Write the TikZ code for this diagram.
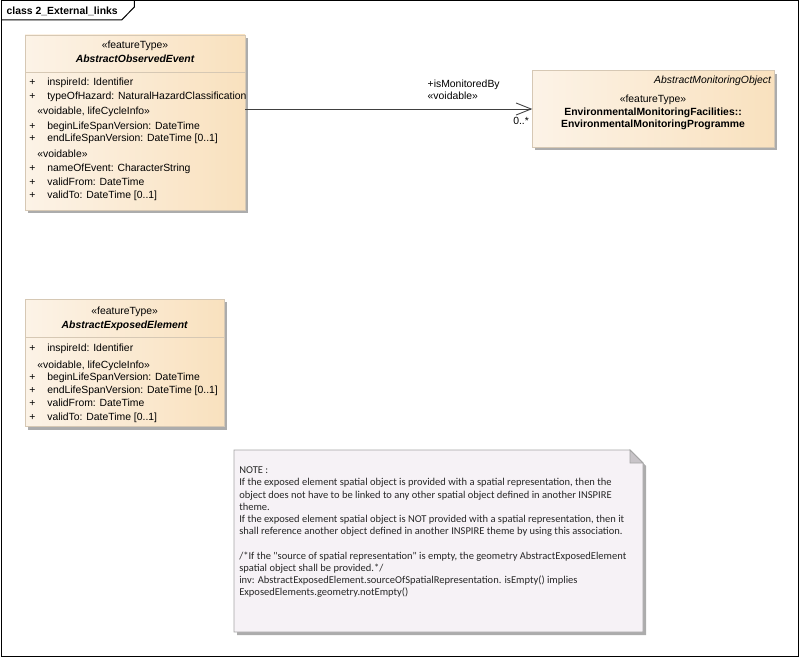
\documentclass[tikz,border=0pt]{standalone}
\usepackage{fontspec}
\setmainfont{Liberation Sans}
\newfontfamily\notefamily{Carlito}
\usetikzlibrary{arrows.meta,shadows}
\definecolor{clsL}{RGB}{252,243,231}
\definecolor{clsR}{RGB}{249,225,190}
\definecolor{clsBorder}{RGB}{214,200,180}
\definecolor{shadowc}{RGB}{172,172,172}
\definecolor{noteFill}{RGB}{246,242,246}
\definecolor{noteBorder}{RGB}{165,165,165}
\definecolor{foldc}{RGB}{200,196,200}
\definecolor{lineC}{RGB}{64,64,64}
\newcommand\umlfont{\fontsize{10.4}{12}\selectfont}
\tikzset{
  classbox/.style={draw=clsBorder, line width=0.8pt, left color=clsL, right color=clsR,
    inner sep=0pt, outer sep=0pt, anchor=north west,
    general shadow={fill=shadowc, shadow xshift=3pt, shadow yshift=-3pt}},
  sepline/.style={draw=clsBorder, line width=0.8pt},
  txt/.style={inner sep=0pt, outer sep=0pt, font=\umlfont, anchor=base west},
  ctxt/.style={txt, anchor=base},
  assoc/.style={draw=lineC, line width=0.9pt, -{Straight Barb[length=15pt, width=12pt, line width=0.9pt]}},
  notetext/.style={inner sep=0pt, outer sep=0pt, anchor=north west, align=left,
    text=black!85, font=\notefamily\fontsize{10.5}{12.2}\selectfont},
}
\begin{document}
\begin{tikzpicture}[x=1pt, y=-1pt]
\useasboundingbox (0,0) rectangle (800,658);
% frame
\draw[line width=1pt] (1,1) rectangle (798.5,656);
\draw[line width=1pt] (1,20) -- (121.7,20) -- (134.3,7) -- (134.3,1);
\node[txt, font=\umlfont\bfseries] (title) at (6.7,14.5) {class 2\_External\_links};

% AbstractObservedEvent
\node[classbox, minimum width=220pt, minimum height=175pt] (obs) at (25,35) {};
\draw[sepline] ([yshift=-37.3pt]obs.north west) -- ([yshift=-37.3pt]obs.north east);
\node[ctxt] (obsst) at (135,49) {«featureType»};
\node[ctxt, font=\umlfont\bfseries\itshape] (obsname) at (135,62.5) {AbstractObservedEvent};
\node[txt] (op1) at (29.3,86) {+};
\node[txt] (oa1) at (47.3,86) {inspireId: Identifier};
\node[txt] (op2) at (29.3,99.5) {+};
\node[txt] (oa2) at (47.3,99.5) {typeOfHazard: NaturalHazardClassification};
\node[txt] (os1) at (37.3,114.5) {«voidable, lifeCycleInfo»};
\node[txt] (op3) at (29.3,130) {+};
\node[txt] (oa3) at (47.3,130) {beginLifeSpanVersion: DateTime};
\node[txt] (op4) at (29.3,142) {+};
\node[txt] (oa4) at (47.3,142) {endLifeSpanVersion: DateTime [0..1]};
\node[txt] (os2) at (37.3,157.5) {«voidable»};
\node[txt] (op5) at (29.3,171) {+};
\node[txt] (oa5) at (47.3,171) {nameOfEvent: CharacterString};
\node[txt] (op6) at (29.3,185) {+};
\node[txt] (oa6) at (47.3,185) {validFrom: DateTime};
\node[txt] (op7) at (29.3,198) {+};
\node[txt] (oa7) at (47.3,198) {validTo: DateTime [0..1]};

% EnvironmentalMonitoringProgramme
\node[classbox, minimum width=242pt, minimum height=76.6pt] (mon) at (532.3,70.7) {};
\node[txt, anchor=base east, font=\umlfont\itshape] (monparent) at (771,83.5) {AbstractMonitoringObject};
\node[ctxt] (monst) at (653,103) {«featureType»};
\node[ctxt, font=\umlfont\bfseries] (monname1) at (653,115.5) {EnvironmentalMonitoringFacilities::};
\node[ctxt, font=\umlfont\bfseries] (monname2) at (653,128) {EnvironmentalMonitoringProgramme};

% association
\draw[assoc] (obs.east |- mon.west) -- (mon.west);
\node[txt] (role) at (427.7,87.5) {+isMonitoredBy};
\node[txt] (rolest) at (427.7,100) {«voidable»};
\node[txt] (mult) at (513.3,124.5) {0..*};

% AbstractExposedElement
\node[classbox, minimum width=199.3pt, minimum height=127.7pt] (exp) at (25,299) {};
\draw[sepline] ([yshift=-38.3pt]exp.north west) -- ([yshift=-38.3pt]exp.north east);
\node[ctxt] (expst) at (124.7,314) {«featureType»};
\node[ctxt, font=\umlfont\bfseries\itshape] (expname) at (124.7,328) {AbstractExposedElement};
\node[txt] (ep1) at (29.3,351) {+};
\node[txt] (ea1) at (47.3,351) {inspireId: Identifier};
\node[txt] (es1) at (37.3,368.5) {«voidable, lifeCycleInfo»};
\node[txt] (ep2) at (29.3,380.5) {+};
\node[txt] (ea2) at (47.3,380.5) {beginLifeSpanVersion: DateTime};
\node[txt] (ep3) at (29.3,393.5) {+};
\node[txt] (ea3) at (47.3,393.5) {endLifeSpanVersion: DateTime [0..1]};
\node[txt] (ep4) at (29.3,406.5) {+};
\node[txt] (ea4) at (47.3,406.5) {validFrom: DateTime};
\node[txt] (ep5) at (29.3,420) {+};
\node[txt] (ea5) at (47.3,420) {validTo: DateTime [0..1]};

% note
\fill[shadowc] (237,453) -- (633,453) -- (646,466) -- (646,635) -- (237,635) -- cycle;
\filldraw[fill=noteFill, draw=noteBorder, line width=0.8pt]
  (234,450) -- (630,450) -- (643,463) -- (643,632) -- (234,632) -- cycle;
\filldraw[fill=foldc, draw=noteBorder, line width=0.8pt] (630,450) -- (643,463) -- (630,463) -- cycle;
\node[notetext] (note) at (239.3,466.9) {NOTE :\\
If the exposed element spatial object is provided with a spatial representation, then the\\
object does not have to be linked to any other spatial object defined in another INSPIRE\\
theme.\\
If the exposed element spatial object is NOT provided with a spatial representation, then it\\
shall reference another object defined in another INSPIRE theme by using this association.\\[12.2pt]
/*If the "source of spatial representation" is empty, the geometry AbstractExposedElement\\
spatial object shall be provided.*/\\
inv: AbstractExposedElement.sourceOfSpatialRepresentation. isEmpty() implies\\
ExposedElements.geometry.notEmpty()};
\end{tikzpicture}
\end{document}
